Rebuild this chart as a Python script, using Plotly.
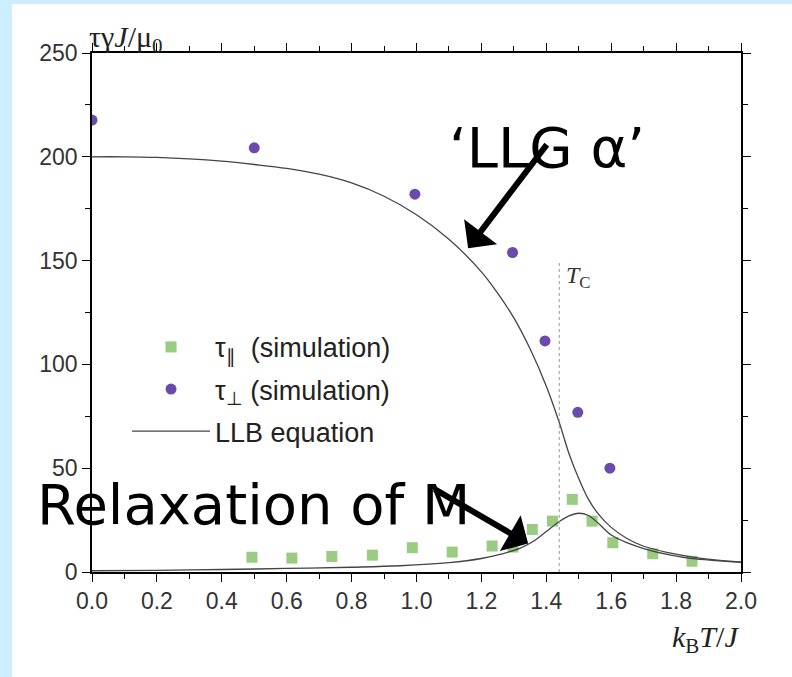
import plotly.graph_objects as go

# ---- data ----
par_sim_T = [0.493, 0.616, 0.739, 0.864, 0.987, 1.110, 1.233, 1.297, 1.357, 1.419, 1.480, 1.541, 1.605, 1.728, 1.849]
par_sim_v = [7.1, 6.7, 7.5, 8.1, 11.7, 9.6, 12.5, 12.0, 20.5, 24.5, 35.0, 24.5, 14.1, 8.8, 5.2]

perp_sim_T = [0.0, 0.5, 0.995, 1.296, 1.396, 1.497, 1.596]
perp_sim_v = [217.7, 204.3, 182.0, 153.9, 111.3, 76.9, 50.0]

perp_llb_T = [0.0, 0.1, 0.2, 0.3, 0.4, 0.5, 0.6, 0.7, 0.8, 0.9, 1.0, 1.1, 1.2, 1.25, 1.3,
              1.35, 1.4, 1.44, 1.47, 1.5, 1.53, 1.56, 1.6, 1.65, 1.7, 1.78, 1.85, 1.92, 2.0]
perp_llb_v = [200.0, 200.0, 199.7, 199.0, 197.9, 196.3, 194.4, 191.6, 187.4, 181.0, 172.1, 160.3,
              144.6, 134.3, 122.4, 107.5, 89.5, 72.0, 57.0, 45.0, 35.0, 28.0, 21.5, 16.0, 12.4,
              9.2, 7.2, 5.8, 4.8]

par_llb_T = [0.0, 0.2, 0.4, 0.6, 0.8, 0.95, 1.1, 1.2, 1.26, 1.32, 1.36, 1.4, 1.44, 1.47, 1.5,
             1.53, 1.56, 1.6, 1.65, 1.7, 1.78, 1.85, 1.92, 2.0]
par_llb_v = [0.6, 0.8, 1.2, 1.7, 2.3, 3.0, 4.5, 6.5, 8.6, 11.5, 14.8, 19.5, 24.3, 27.0, 28.3,
             27.2, 23.5, 17.8, 14.0, 11.3, 8.2, 6.4, 5.5, 4.7]

Tc = 1.44
Tc_line_top = 150

x_ticks = [0.0, 0.2, 0.4, 0.6, 0.8, 1.0, 1.2, 1.4, 1.6, 1.8, 2.0]
y_ticks = [0, 50, 100, 150, 200, 250]

# ---- styles ----
GREEN = "#99cc80"
PURPLE = "#6a4aaa"
CURVE = "#444444"
BLUE_BG = "#cdeeff"
TICKFONT = dict(family="Liberation Sans, Arial, sans-serif", size=23, color="#333333")
SERIF = "Liberation Serif, Times New Roman, serif"
BIG = dict(family="DejaVu Sans, sans-serif", size=56, color="#000000")

fig = go.Figure()

fig.add_trace(go.Scatter(
    x=par_sim_T, y=par_sim_v, mode="markers", name="τ<sub>∥</sub>  (simulation)",
    legendgroup="a",
    marker=dict(symbol="square", size=11, color=GREEN, line=dict(width=0))))
fig.add_trace(go.Scatter(
    x=perp_sim_T, y=perp_sim_v, mode="markers", name="τ<sub>⊥</sub> (simulation)",
    legendgroup="b",
    marker=dict(symbol="circle", size=11, color=PURPLE, line=dict(width=0))))
fig.add_trace(go.Scatter(
    x=perp_llb_T, y=perp_llb_v, mode="lines", name="LLB equation", legendgroup="c",
    line=dict(color=CURVE, width=1.3, shape="spline", smoothing=1.0)))
fig.add_trace(go.Scatter(
    x=par_llb_T, y=par_llb_v, mode="lines", name="LLB equation", legendgroup="c",
    showlegend=False,
    line=dict(color=CURVE, width=1.3, shape="spline", smoothing=1.0)))

# T_C dotted line
fig.add_trace(go.Scatter(
    x=[Tc, Tc], y=[0, Tc_line_top], mode="lines", showlegend=False, hoverinfo="skip",
    line=dict(color="#999999", width=1, dash="dot")))

axis_common = dict(
    showline=True, linecolor="black", linewidth=1.5, mirror="allticks",
    ticks="outside", ticklen=8, tickwidth=1.3, tickcolor="black",
    showgrid=False, zeroline=False, tickfont=TICKFONT,
)
fig.update_xaxes(range=[0, 2], tickvals=x_ticks, ticktext=[f"{v:.1f}" for v in x_ticks],
                 minor=dict(dtick=0.1, ticks="outside", ticklen=5, tickcolor="black", tickwidth=1.2),
                 **axis_common)
fig.update_yaxes(range=[0, 250], tickvals=y_ticks, ticktext=[str(v) for v in y_ticks],
                 minor=dict(dtick=25, ticks="outside", ticklen=5, tickcolor="black", tickwidth=1.2),
                 **axis_common)

# white panel over the light-blue page
fig.add_shape(type="rect", xref="paper", yref="paper", x0=-0.1233, x1=1.08, y0=-0.21, y1=1.0944,
              fillcolor="white", line=dict(width=0), layer="below")

annotations = [
    dict(text="τγ<i>J</i>/μ<sub>0</sub>", xref="paper", yref="paper", x=-0.007, y=1.027,
         xanchor="left", yanchor="middle", showarrow=False,
         font=dict(family=SERIF, size=30, color="#222222")),
    dict(text="<i>k</i><sub>B</sub><i>T</i>/<i>J</i>", xref="paper", yref="paper", x=1.0, y=-0.13,
         xanchor="right", yanchor="middle", showarrow=False,
         font=dict(family=SERIF, size=30, color="#222222")),
    dict(text="<i>T</i><sub>C</sub>", xref="x", yref="y", x=1.455, y=142,
         xanchor="left", yanchor="middle", showarrow=False,
         font=dict(family=SERIF, size=24, color="#333333")),
    dict(text="‘LLG α’", xref="paper", yref="paper", x=(447 - 92) / 649, y=(572 - 147) / 519,
         xanchor="left", yanchor="middle", showarrow=False, font=BIG),
    dict(text="Relaxation of M", xref="paper", yref="paper", x=(35 - 92) / 649, y=(572 - 505) / 519,
         xanchor="left", yanchor="middle", showarrow=False, font=BIG),
    # arrows
    dict(text="", x=1.159, y=156, xref="x", yref="y", ax=1.405, ay=206.6, axref="x", ayref="y",
         showarrow=True, arrowhead=1, arrowsize=1.15, arrowwidth=6, arrowcolor="black"),
    dict(text="", x=1.344, y=13.7, xref="x", yref="y", ax=1.051, ay=40.3, axref="x", ayref="y",
         showarrow=True, arrowhead=1, arrowsize=1.15, arrowwidth=6, arrowcolor="black"),
]

fig.update_layout(
    width=792, height=677,
    margin=dict(l=92, r=51, t=53, b=105),
    paper_bgcolor=BLUE_BG, plot_bgcolor="white",
    annotations=annotations,
    showlegend=True,
    legend=dict(x=0.054, y=0.48, xanchor="left", yanchor="top", bgcolor="rgba(0,0,0,0)",
                font=dict(family="Liberation Sans, Arial, sans-serif", size=27, color="#222222"),
                itemwidth=78, tracegroupgap=4, traceorder="grouped"),
)

fig.write_html("out.html")
